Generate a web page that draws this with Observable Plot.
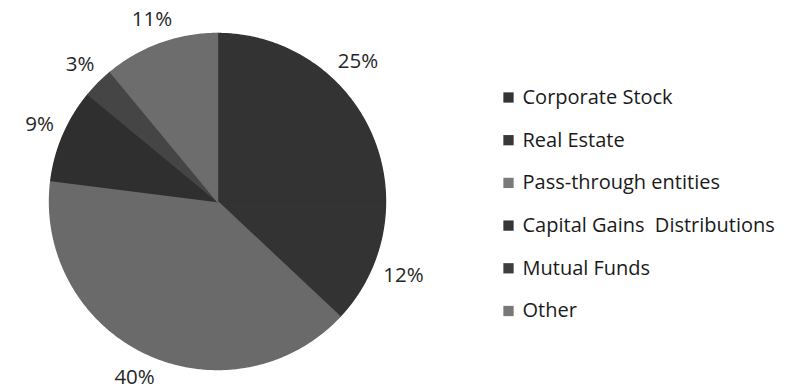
<!DOCTYPE html>
<html>
<head>
<meta charset="utf-8">
<script src="https://cdn.jsdelivr.net/npm/d3@7"></script>
<script src="https://cdn.jsdelivr.net/npm/@observablehq/plot@0.6"></script>
<style>
  html, body { margin: 0; padding: 0; background: #fff; }
  #chart svg { display: block; }
</style>
</head>
<body>
<div id="chart"></div>
<script>
// ---- data ----
const categories = ["Corporate Stock", "Real Estate", "Pass-through entities", "Capital Gains  Distributions", "Mutual Funds", "Other"];
const shares = [25, 12, 40, 9, 3, 11];
const labels = ["25%", "12%", "40%", "9%", "3%", "11%"];
const sliceColors = ["#333333", "#333333", "#6a6a6a", "#2f2f2f", "#454545", "#6d6d6d"];
const swatchColors = ["#343434", "#383838", "#7a7a7a", "#353535", "#3e3e3e", "#777777"];

// ---- layout ----
const W = 791, H = 392;
const cx = 217, cy = 201, R = 168;
const labelFont = 20.5;

const rows = categories.map((name, i) => ({name, value: shares[i], label: labels[i], i}));
const arcs = d3.pie().sort(null).value(d => d.value)(rows);

// wedge polygons in unit coords (y up), angles clockwise from 12 o'clock
const wedgePts = [];
for (const a of arcs) {
  const n = Math.max(4, Math.ceil((a.endAngle - a.startAngle) / 0.01));
  wedgePts.push({name: a.data.name, x: 0, y: 0});
  for (let k = 0; k <= n; k++) {
    const t = a.startAngle + (a.endAngle - a.startAngle) * k / n;
    wedgePts.push({name: a.data.name, x: Math.sin(t), y: Math.cos(t)});
  }
  wedgePts.push({name: a.data.name, x: 0, y: 0});
}
// outside-end labels: label box's nearest corner sits a small gap outside the circle
const gap = 10;
const labelPts = arcs.map(a => {
  const m = (a.startAngle + a.endAngle) / 2;
  const ux = Math.sin(m), uy = -Math.cos(m);           // pixel direction (y down)
  const hw = a.data.label.length * labelFont * 0.32, hh = labelFont * 0.48;
  const c = [-Math.sign(ux) * hw, -Math.sign(uy) * hh];
  const uc = ux * c[0] + uy * c[1];
  const D = R + gap;
  const t = -uc + Math.sqrt(uc * uc - (c[0] ** 2 + c[1] ** 2) + D * D);
  return {label: a.data.label, x: (t * ux) / R, y: -(t * uy) / R};
});

// legend positions (pixel layout converted to unit coords)
const px2x = p => (p - cx) / R;
const px2y = p => (cy - p) / R;
const legend = rows.map(d => ({...d, x: px2x(508), tx: px2x(522), y: px2y(97 + d.i * 42.7)}));

const chart = Plot.plot({
  width: W,
  height: H,
  margin: 0,
  x: {domain: [-1, 1], range: [cx - R, cx + R], axis: null},
  y: {domain: [-1, 1], range: [cy + R, cy - R], axis: null},
  color: {domain: categories, range: sliceColors},
  style: {fontFamily: "'Open Sans', Lato, sans-serif", background: "#fff"},
  marks: [
    Plot.line(wedgePts, {x: "x", y: "y", z: "name", fill: "name", stroke: "name", strokeWidth: 1.4, curve: "linear-closed"}),
    Plot.text(labelPts, {x: "x", y: "y", text: "label", fontSize: labelFont, fill: "#262626"}),
    Plot.dot(legend, {x: "x", y: "y", symbol: "square", r: 5.8, fill: (d) => swatchColors[d.i], stroke: null}),
    Plot.text(legend, {x: "tx", y: "y", text: "name", textAnchor: "start", fontSize: 20, fill: "#1a1a1a"})
  ]
});
document.getElementById("chart").appendChild(chart);
</script>
</body>
</html>
